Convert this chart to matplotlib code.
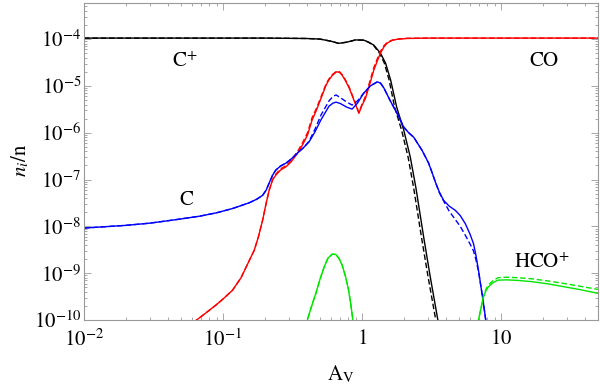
import matplotlib
matplotlib.use('Agg')
import matplotlib.pyplot as plt
import numpy as np

plt.rcParams['mathtext.fontset'] = 'stix'
plt.rcParams['font.family'] = ['Liberation Serif', 'DejaVu Serif']

# ── abundances (A_V, n_i/n) ──
# C+ (black)
av_cp = [0.01, 0.2, 0.4, 0.5, 0.6, 0.68, 0.78, 0.9, 1.03, 1.12, 1.22, 1.36, 1.48, 1.61, 1.78, 2.0, 2.23, 2.45,
         2.78, 3.1, 3.52, 3.8]
n_cp = [1.05e-4, 1.05e-4, 1.03e-4, 1.0e-4, 9.0e-5, 8.1e-5, 8.6e-5, 9.6e-5, 9.5e-5, 8.6e-5, 7.4e-5, 5.0e-5, 3.07e-5,
        1.33e-5, 3.5e-6, 1.14e-6, 3.0e-7, 6.5e-8, 6.0e-9, 8.5e-10, 1.0e-10, 2.7e-11]
av_cp_d = [0.01, 0.2, 0.4, 0.5, 0.6, 0.68, 0.78, 0.9, 1.03, 1.11, 1.21, 1.34, 1.45, 1.57, 1.72, 1.93, 2.15, 2.36,
           2.68, 2.99, 3.40, 3.7]
n_cp_d = [1.05e-4, 1.05e-4, 1.03e-4, 1.0e-4, 9.0e-5, 8.1e-5, 8.6e-5, 9.6e-5, 9.5e-5, 8.6e-5, 7.4e-5, 5.0e-5, 3.07e-5,
          1.33e-5, 3.5e-6, 1.14e-6, 3.0e-7, 6.5e-8, 6.0e-9, 8.5e-10, 1.0e-10, 2.7e-11]

# CO (red)
av_co = [0.055, 0.0646, 0.075, 0.0893, 0.10, 0.117, 0.135, 0.147, 0.168, 0.18, 0.193, 0.205, 0.215, 0.228, 0.240,
         0.26, 0.284, 0.31, 0.343, 0.375, 0.406, 0.438, 0.47, 0.50, 0.552, 0.58, 0.61, 0.655, 0.69, 0.72, 0.76,
         0.81, 0.88, 0.951, 1.0, 1.06, 1.14, 1.22, 1.29, 1.36, 1.44, 1.52, 1.65, 1.79, 2.1, 3.0, 50]
n_co = [6.7e-11, 1.0e-10, 1.4e-10, 2.1e-10, 2.8e-10, 4.3e-10, 8.0e-10, 1.36e-9, 3.1e-9, 6.0e-9, 1.36e-8, 3.2e-8,
        5.9e-8, 1.0e-7, 1.24e-7, 1.6e-7, 1.87e-7, 2.4e-7, 3.6e-7, 5.6e-7, 8.9e-7, 1.86e-6, 3.0e-6, 4.8e-6, 1.04e-5,
        1.35e-5, 1.65e-5, 2.0e-5, 1.95e-5, 1.7e-5, 1.3e-5, 9.0e-6, 4.8e-6, 2.6e-6, 3.8e-6, 5.4e-6, 1.1e-5, 2.2e-5,
        3.4e-5, 5.0e-5, 6.8e-5, 8.2e-5, 9.4e-5, 9.9e-5, 1.03e-4, 1.05e-4, 1.05e-4]
n_co_d = [6.7e-11, 1.0e-10, 1.4e-10, 2.1e-10, 2.8e-10, 4.3e-10, 8.0e-10, 1.36e-9, 3.1e-9, 6.0e-9, 1.36e-8, 3.2e-8,
          5.9e-8, 1.0e-7, 1.3e-7, 1.7e-7, 1.97e-7, 2.6e-7, 3.9e-7, 6.2e-7, 1.0e-6, 2.1e-6, 3.3e-6, 5.2e-6, 1.1e-5,
          1.42e-5, 1.72e-5, 2.05e-5, 2.0e-5, 1.75e-5, 1.35e-5, 9.4e-6, 5.0e-6, 2.7e-6, 4.0e-6, 6.0e-6, 1.25e-5,
          2.5e-5, 3.8e-5, 5.5e-5, 7.2e-5, 8.5e-5, 9.5e-5, 1.0e-4, 1.04e-4, 1.05e-4, 1.05e-4]

# C (blue)
av_c = [0.01, 0.02, 0.0297, 0.045, 0.068, 0.09, 0.117, 0.155, 0.175, 0.193, 0.205, 0.215, 0.228, 0.240, 0.26, 0.284,
        0.31, 0.343, 0.38, 0.417, 0.46, 0.508, 0.58, 0.62, 0.652, 0.70, 0.78, 0.85, 0.93, 1.03, 1.15, 1.29, 1.36,
        1.44, 1.6, 1.79, 2.0, 2.17, 2.36, 2.71, 3.02, 3.2, 3.38, 3.6, 3.87, 4.25, 4.70, 5.1, 5.54, 6.0, 6.35, 6.6,
        6.90, 7.2, 7.49, 7.78, 8.0]
n_c = [9.2e-9, 1.05e-8, 1.17e-8, 1.38e-8, 1.65e-8, 1.95e-8, 2.4e-8, 3.2e-8, 3.8e-8, 4.6e-8, 6.0e-8, 8.4e-8, 1.25e-7,
       1.59e-7, 1.95e-7, 2.24e-7, 2.75e-7, 3.66e-7, 4.8e-7, 6.4e-7, 1.05e-6, 1.9e-6, 3.7e-6, 4.3e-6, 4.5e-6, 4.2e-6,
       3.5e-6, 3.2e-6, 4.3e-6, 7.0e-6, 1.0e-5, 1.22e-5, 1.15e-5, 9.0e-6, 4.8e-6, 2.6e-6, 1.32e-6, 1.0e-6, 8.0e-7,
       4.2e-7, 2.24e-7, 1.4e-7, 8.8e-8, 5.5e-8, 3.6e-8, 2.7e-8, 2.2e-8, 1.7e-8, 1.15e-8, 6.8e-9, 4.3e-9, 2.5e-9,
       1.16e-9, 5.0e-10, 2.3e-10, 1.0e-10, 5.5e-11]
n_c_d = [9.2e-9, 1.05e-8, 1.17e-8, 1.38e-8, 1.65e-8, 1.95e-8, 2.4e-8, 3.2e-8, 3.8e-8, 4.6e-8, 6.0e-8, 8.4e-8, 1.25e-7,
         1.59e-7, 1.95e-7, 2.24e-7, 2.75e-7, 3.66e-7, 4.8e-7, 6.6e-7, 1.2e-6, 2.4e-6, 4.8e-6, 6.0e-6, 6.4e-6, 5.6e-6,
         4.5e-6, 3.9e-6, 4.8e-6, 7.0e-6, 1.0e-5, 1.22e-5, 1.15e-5, 9.0e-6, 4.8e-6, 2.6e-6, 1.32e-6, 1.0e-6, 8.0e-7,
         4.2e-7, 2.24e-7, 1.4e-7, 8.8e-8, 5.3e-8, 3.5e-8, 2.1e-8, 1.4e-8, 1.0e-8, 6.5e-9, 4.2e-9, 3.0e-9, 2.0e-9,
         1.1e-9, 5.0e-10, 2.3e-10, 1.0e-10, 5.5e-11]

# HCO+ (green), gap where it falls far below the axis
av_hco = [0.39, 0.405, 0.435, 0.466, 0.50, 0.535, 0.57, 0.612, 0.65, 0.684, 0.72, 0.764, 0.80, 0.830, 0.861, 0.883,
          np.nan, 6.6, 6.9, 7.2, 7.49, 7.8, 8.13, 8.8, 9.55, 11.0, 13.3, 16.6, 22, 28.8, 38, 50]
n_hco = [4.8e-11, 1.0e-10, 2.0e-10, 3.7e-10, 7.5e-10, 1.36e-9, 2.1e-9, 2.55e-9, 2.5e-9, 2.06e-9, 1.5e-9, 8.3e-10,
         4.5e-10, 2.25e-10, 1.0e-10, 4.8e-11, np.nan, 5.5e-11, 1.0e-10, 1.8e-10, 3.1e-10, 4.2e-10, 5.1e-10, 6.3e-10,
         7.1e-10, 7.2e-10, 7.0e-10, 6.6e-10, 5.9e-10, 5.1e-10, 4.4e-10, 3.7e-10]
n_hco_d = [4.8e-11, 1.0e-10, 2.0e-10, 3.7e-10, 7.5e-10, 1.36e-9, 2.1e-9, 2.55e-9, 2.5e-9, 2.06e-9, 1.5e-9, 8.3e-10,
           4.5e-10, 2.25e-10, 1.0e-10, 4.8e-11, np.nan, 5.5e-11, 1.0e-10, 1.8e-10, 3.2e-10, 4.5e-10, 5.6e-10, 7.0e-10,
           8.0e-10, 8.2e-10, 8.0e-10, 7.6e-10, 6.8e-10, 6.0e-10, 5.2e-10, 4.5e-10]

x_ticks = [0.01, 0.1, 1, 10]
x_labels = [r'$10^{-2}$', r'$10^{-1}$', r'$1$', r'$10$']
y_ticks = [1e-10, 1e-9, 1e-8, 1e-7, 1e-6, 1e-5, 1e-4]
y_labels = [r'$10^{-10}$', r'$10^{-9}$', r'$10^{-8}$', r'$10^{-7}$', r'$10^{-6}$', r'$10^{-5}$', r'$10^{-4}$']

fig = plt.figure(figsize=(6, 3.84), dpi=100)
ax = fig.add_axes([84 / 600, 64 / 384, 514 / 600, 317 / 384])

green = (0.0, 0.9, 0.0)
curves = [
    (av_cp, n_cp, av_cp_d, n_cp_d, 'black'),
    (av_co, n_co, av_co, n_co_d, 'red'),
    (av_c, n_c, av_c, n_c_d, 'blue'),
    (av_hco, n_hco, av_hco, n_hco_d, green),
]
for a, n, ad, nd, col in curves:
    ax.plot(a, n, color=col, lw=1.0, solid_joinstyle='round')
    ax.plot(ad, nd, color=col, lw=1.0, dashes=(4, 2))

ax.set_xscale('log')
ax.set_yscale('log')
ax.set_xlim(0.01, 50)
ax.set_ylim(1e-10, 5.9e-4)

ax.set_xticks(x_ticks)
ax.set_xticklabels(x_labels, fontsize=15)
ax.set_yticks(y_ticks)
ax.set_yticklabels(y_labels, fontsize=15)
ax.xaxis.set_minor_locator(matplotlib.ticker.LogLocator(base=10, subs=np.arange(2, 10), numticks=20))
ax.yaxis.set_minor_locator(matplotlib.ticker.LogLocator(base=10, subs=np.arange(2, 10), numticks=20))
ax.xaxis.set_minor_formatter(matplotlib.ticker.NullFormatter())
ax.yaxis.set_minor_formatter(matplotlib.ticker.NullFormatter())
ax.tick_params(which='both', direction='in', top=True, right=True, color='#999999', width=0.6)
ax.tick_params(which='major', length=5)
ax.tick_params(which='minor', length=2.5)
ax.tick_params(axis='x', which='major', pad=7)
ax.tick_params(axis='y', which='major', pad=2)
for sp in ax.spines.values():
    sp.set_color('#999999')
    sp.set_linewidth(0.8)

ax.text(0.053, 3.2e-5, r'$\mathrm{C}^{+}$', fontsize=15, ha='center', va='center')
ax.text(20.5, 3.4e-5, r'$\mathrm{CO}$', fontsize=15, ha='center', va='center')
ax.text(0.0547, 3.5e-8, r'$\mathrm{C}$', fontsize=15, ha='center', va='center')
ax.text(19.8, 1.64e-9, r'$\mathrm{HCO}^{+}$', fontsize=15, ha='center', va='center')

fig.text(20 / 600, 1 - 160 / 384, r'$n_i/\mathrm{n}$', rotation=90, fontsize=15, ha='center', va='center')
fig.text(341 / 600, 4 / 384, r'$\mathrm{A}_\mathrm{V}$', fontsize=15, ha='center', va='baseline')

fig.savefig('out.png', dpi=100)
